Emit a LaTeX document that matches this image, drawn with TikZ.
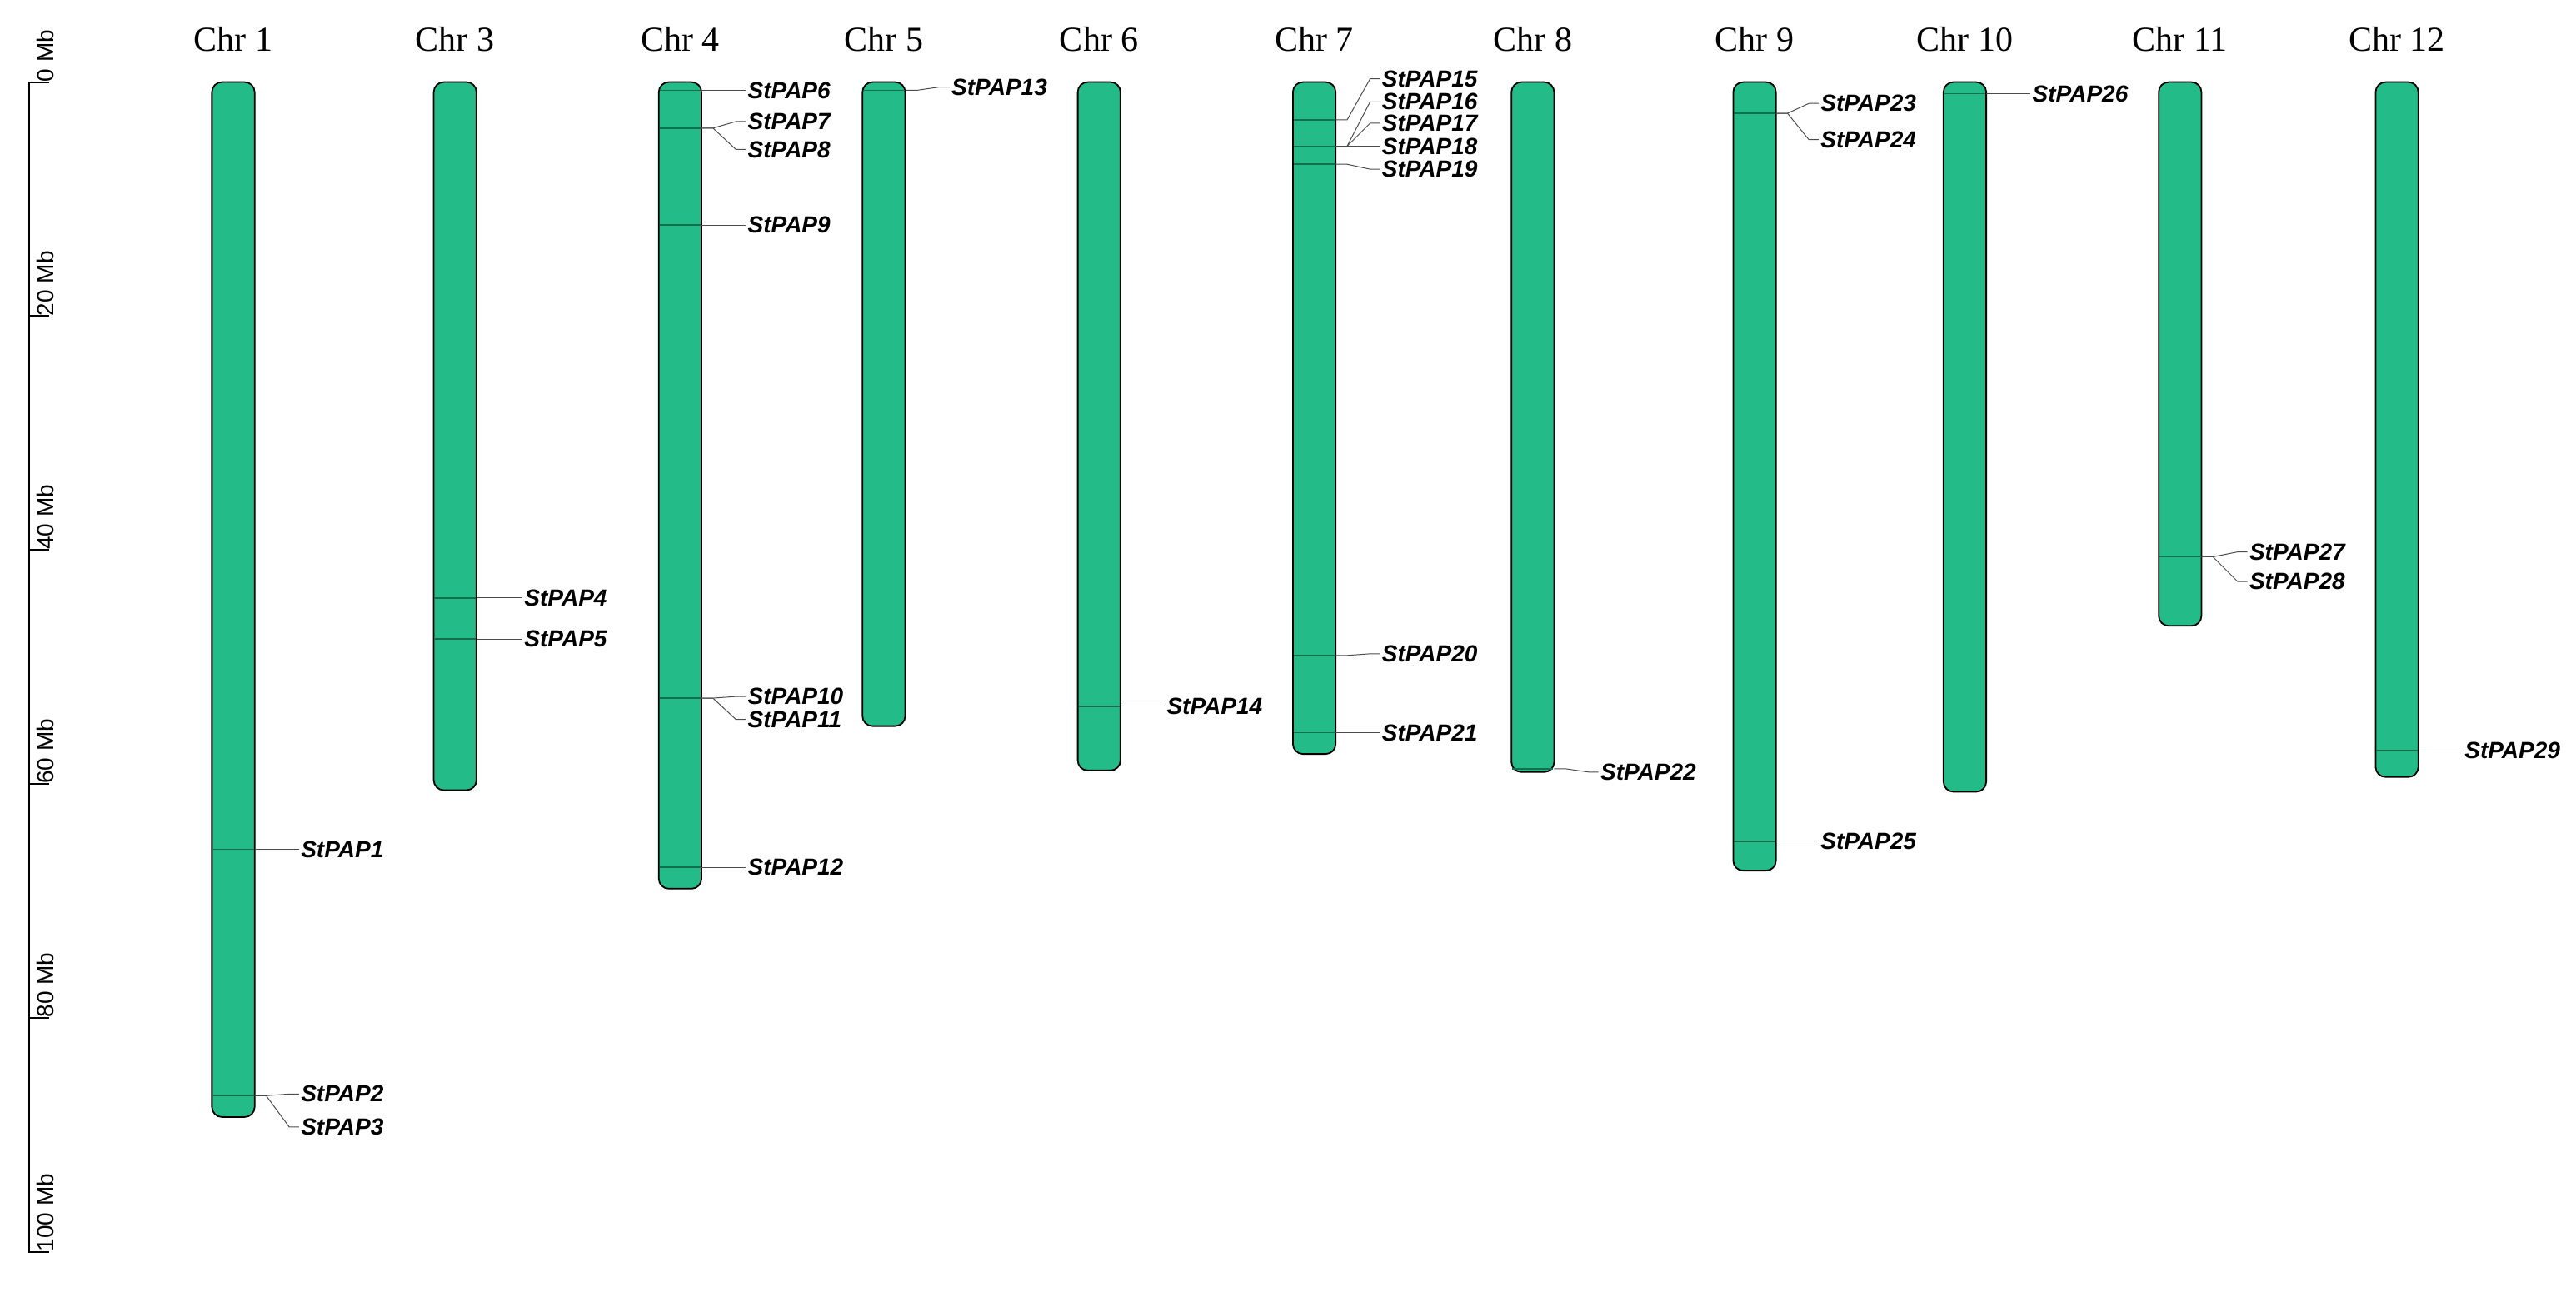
\documentclass[tikz,border=0pt]{standalone}
\usepackage{fontspec}
\setmainfont{Liberation Serif}
\newfontfamily\genefont{Liberation Sans}
\definecolor{chrgreen}{RGB}{35,187,135}
\definecolor{markgreen}{RGB}{20,110,75}
\tikzset{
  chrbox/.style={draw=black,line width=0.9pt,fill=chrgreen,rounded corners=6pt},
  chrlab/.style={font=\fontsize{21}{21}\selectfont,anchor=center},
  gene/.style={font=\genefont\bfseries\itshape\fontsize{14}{14}\selectfont,anchor=west,inner sep=1pt},
  conn/.style={draw=black!70,line width=0.5pt},
  genemark/.style={draw=markgreen,line width=0.9pt},
  mblab/.style={font=\genefont\fontsize{14}{14}\selectfont,rotate=90,anchor=north west,inner sep=0pt}
}
\begin{document}
\begin{tikzpicture}[x=0.986pt,y=-0.986pt]
\useasboundingbox (0,0) rectangle (1568,798.7);
% scale axis
\draw[line width=1pt] (30,50) -- (18,50) -- (18,762) -- (30,762);
\foreach \v/\t in {0/0,20/20,40/40,60/60,80/80,100/100}{
  \coordinate (tk\v) at (18,{50+7.12*\v});
  \draw[line width=1pt] (tk\v) -- ++(12,0);
  \node[mblab] (mb\v) at (22,{50+7.12*\v}) {\t\ Mb};
}
% chromosomes: name/center/bottom
\foreach \n/\c/\b in {1/142/680,3/277/481,4/414/541,5/538/442,6/669/469,7/800/459,8/933/470,9/1068/530,10/1196/482,11/1327/381,12/1459/473}{
  \node[chrlab] (lab\n) at (\c,24) {Chr \n};
  \draw[chrbox] (\c-13,50) rectangle (\c+13,\b);
  \coordinate (c\n) at (\c,50);
}
% genes: id / center / marker y / label y / label x
\foreach \g/\c/\m/\l/\x in {
 1/142/517/517/182, 2/142/667/666/182, 3/142/667/686/182,
 4/277/364/364/318, 5/277/389/389/318,
 6/414/55/55/454, 7/414/78/74/454, 8/414/78/91/454, 9/414/137/137/454,
 10/414/425/424/454, 11/414/425/438/454, 12/414/528/528/454,
 13/538/55/53/578, 14/669/430/430/709,
 15/800/73/48/840, 16/800/89/62/840, 17/800/89/75/840, 18/800/89/89/840, 19/800/100/103/840,
 20/800/399/398/840, 21/800/446/446/840,
 22/933/468/470/973,
 23/1068/69/63/1107, 24/1068/69/85/1107, 25/1068/512/512/1107,
 26/1196/57/57/1236,
 27/1327/339/336/1368, 28/1327/339/354/1368,
 29/1459/457/457/1499}{
  \draw[genemark] (\c-12.5,\m) -- (\c+12.5,\m);
  \coordinate (m\g) at (\c+13,\m);
  \node[gene] (g\g) at (\x,\l) {StPAP\g};
  \draw[conn] (m\g) -- ++(7,0) -- ([xshift=-6*0.986pt]g\g.west) -- (g\g.west);
}
\end{tikzpicture}
\end{document}
